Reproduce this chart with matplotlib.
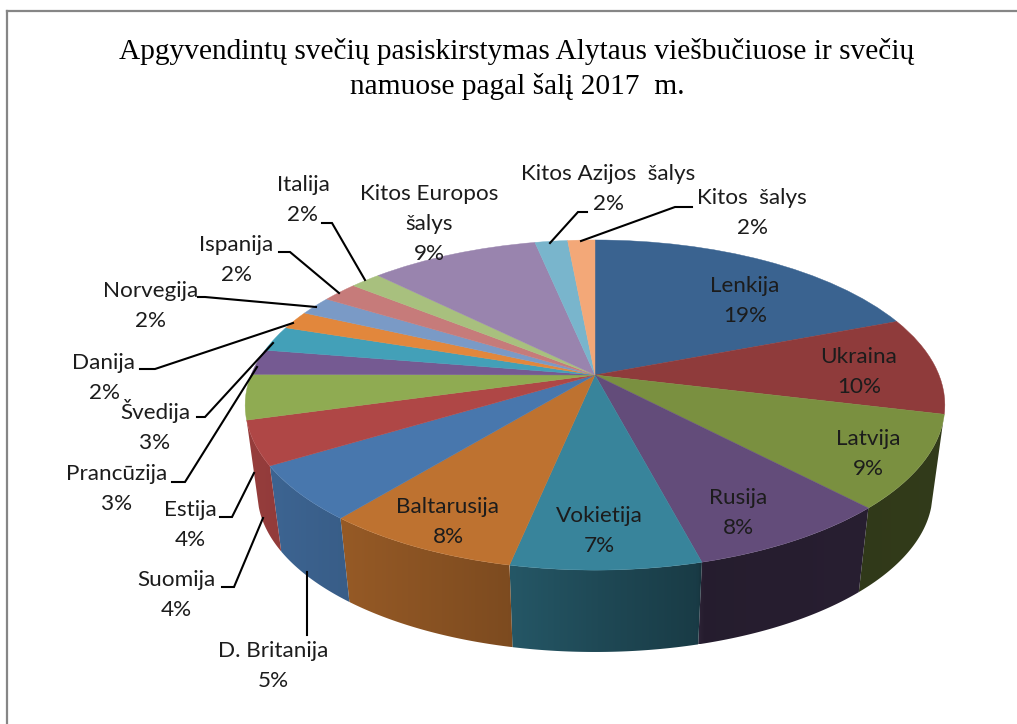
import numpy as np
import matplotlib
matplotlib.use('Agg')
import matplotlib.pyplot as plt
from matplotlib.colors import to_rgb
from matplotlib.patches import Polygon
from matplotlib.transforms import Transform

# Duomenys
salys = ['Lenkija', 'Ukraina', 'Latvija', 'Rusija', 'Vokietija', 'Baltarusija',
         'D. Britanija', 'Suomija', 'Estija', 'Prancūzija', 'Švedija', 'Danija',
         'Norvegija', 'Ispanija', 'Italija', 'Kitos Europos\nšalys',
         'Kitos Azijos  šalys', 'Kitos  šalys']
reiksmes = [19.2, 9.6, 9.1, 8.0, 7.4, 7.7, 5.4, 4.3, 4.4, 2.5, 2.5, 1.8,
            1.85, 2.0, 1.7, 9.3, 1.8, 1.5]
procentai = [19, 10, 9, 8, 7, 8, 5, 4, 4, 3, 3, 2, 2, 2, 2, 9, 2, 2]
spalvos = ['#3a6390', '#8f3b3b', '#7a9040', '#634c7a', '#38849b', '#be7230',
           '#4877ad', '#af4746', '#8fab52', '#755a92', '#43a0b8', '#e2873c',
           '#7a9ac6', '#c67b7a', '#a8c07e', '#9984ae', '#79b5cc', '#f3a878']
pavadinimas = 'Apgyvendintų svečių pasiskirstymas Alytaus viešbučiuose ir svečių\nnamuose pagal šalį 2017  m.'

# Uzrasu centrai ir linijos (pikseliais)
uzrasu_vietos = [(745, 301), (859, 372), (868, 454), (738, 513), (599, 531),
                 (448, 522), (273, 666), (176, 595), (190, 525), (117, 489),
                 (155, 426), (104, 378), (151, 306), (236, 260), (303, 200),
                 (429, 224), (608, 189), (752, 213)]
linijos = [None, None, None, None, None, None,
           [(307, 572), (307, 635)],
           [(263, 518), (234, 587), (222, 587)],
           [(254, 473), (232, 517), (220, 517)],
           [(257, 367), (185, 482), (172, 482)],
           [(273, 343), (205, 417), (197, 417)],
           [(293, 323), (155, 369), (140, 369)],
           [(316, 307), (205, 297), (198, 297)],
           [(339, 293), (290, 252), (279, 252)],
           [(365, 280), (332, 223), (322, 223)],
           None,
           [(550, 243), (578, 212), (587, 212)],
           [(581, 241), (675, 207), (692, 207)]]

# Perspektyva: vienetinis skritulys -> pikseliai
CX = 595
K = 0.182
A = 344
B = 159.6
VIRSUS_Y = 375
APACIA_Y = 463.7
APACIA_MAST = 0.965
SIENOS_V = 0.27


def projekcija(u, v, y0=VIRSUS_Y, mast=1.0):
    w = 1 + K * v
    return CX + mast * A * u / w, y0 - mast * B * v / w


class Perspektyva(Transform):
    input_dims = 2
    output_dims = 2

    def transform_non_affine(self, values):
        x, y = projekcija(values[:, 0], values[:, 1])
        return np.column_stack([x, y])


def sienos_tamsumas(x):
    return np.interp(x, [245, 340, 507, 600, 698, 702, 950],
                     [0.86, 0.79, 0.66, 0.55, 0.45, 0.38, 0.41])


plt.rcParams['font.family'] = ['Lato', 'DejaVu Sans']
fig = plt.figure(figsize=(10.17, 7.24), dpi=100)
ax = fig.add_axes([0, 0, 1, 1])

wedges, _ = ax.pie(reiksmes, colors=spalvos, startangle=90, counterclock=False,
                   radius=1, wedgeprops={'linewidth': 0})
ax.set_aspect('auto')

# Sonine siena: tik priekine dalis, spalvu perejimas per paveiksla
dalys = np.array(reiksmes) / sum(reiksmes)
ribos = np.concatenate([[0], np.cumsum(dalys)]) * 2 * np.pi
for i in range(len(reiksmes)):
    nuo = max(ribos[i], np.pi / 2 + np.arcsin(SIENOS_V))
    iki = min(ribos[i + 1], 3 * np.pi / 2 - np.arcsin(SIENOS_V))
    if iki <= nuo:
        continue
    kampai = np.linspace(nuo, iki, 60)
    xv, yv = projekcija(np.sin(kampai), np.cos(kampai))
    xa, ya = projekcija(np.sin(kampai), np.cos(kampai), APACIA_Y, APACIA_MAST)
    xs = np.concatenate([xv, xa[::-1]])
    ys = np.concatenate([yv, ya[::-1]])
    x1, x2 = xs.min(), xs.max()
    stulpeliai = np.linspace(x1, x2, 64)
    gradientas = np.outer(sienos_tamsumas(stulpeliai), to_rgb(spalvos[i]))[None, :, :]
    im = ax.imshow(gradientas, extent=(x1, x2, ys.max(), ys.min()), aspect='auto',
                   interpolation='bilinear', zorder=1)
    forma = Polygon(np.column_stack([xs, ys]), closed=True, transform=ax.transData,
                    facecolor='none', edgecolor='none')
    ax.add_patch(forma)
    im.set_clip_path(forma)

ax.set_aspect('auto')
ax.set_xlim(0, 1017)
ax.set_ylim(724, 0)
ax.axis('off')

persp = Perspektyva()
for w, sp in zip(wedges, spalvos):
    w.set_transform(persp + ax.transData)
    w.set_zorder(2)
    w.set_edgecolor(sp)
    w.set_linewidth(0.3)

# Linijos
for lin in linijos:
    if lin is None:
        continue
    xs, ys = zip(*lin)
    ax.plot(xs, ys, color='black', lw=1.5, zorder=3, solid_joinstyle='miter')

# Uzrasai
for vardas, pr, (x, y) in zip(salys, procentai, uzrasu_vietos):
    ax.text(x, y, f'{vardas}\n{pr}%', ha='center', va='center', fontsize=16.2,
            color='#1c1c1c', linespacing=1.65, zorder=4)

ax.text(517, 69, pavadinimas, ha='center', va='center', fontsize=21.15,
        family=['Liberation Serif', 'DejaVu Serif'], color='black', linespacing=1.4)

# Remelis
ax.plot([7, 7], [724, 11], color='#868686', lw=1.6, zorder=0)
ax.plot([7, 1017], [11, 11], color='#868686', lw=1.6, zorder=0)

fig.savefig('out.png', dpi=100)
